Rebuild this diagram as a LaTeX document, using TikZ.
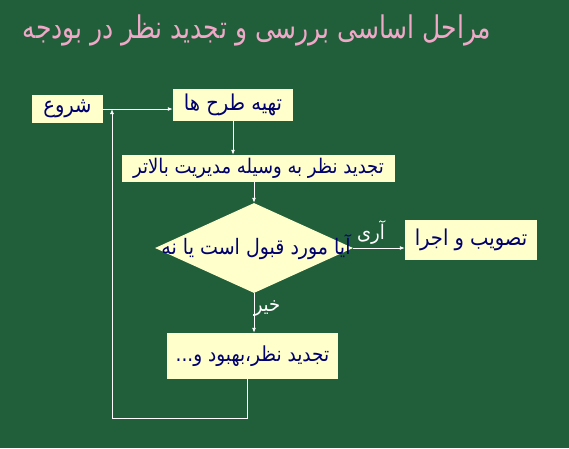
\documentclass[tikz,border=0pt]{standalone}
\usepackage{fontspec}
\setmainfont{DejaVu Sans}
\newfontfamily\arabicfont[Script=Arabic]{DejaVu Sans}
\TeXXeTstate=1
\usetikzlibrary{arrows.meta}
\usetikzlibrary{shapes.geometric}
\usetikzlibrary{calc}
\tikzset{>=latex}
\definecolor{bggreen}{RGB}{33,94,58}
\definecolor{boxfill}{RGB}{255,255,204}
\definecolor{boxtext}{RGB}{0,0,110}
\definecolor{titlepink}{RGB}{240,168,200}
\newcommand{\fsize}[1]{\arabicfont\fontsize{#1}{#1}\selectfont}
\tikzset{stepbox/.style = {draw=none, fill=boxfill, text=boxtext, inner sep=0pt, font=\fsize{19.5}}}
\tikzset{flow/.style = {draw=white, line width=0.9pt, -{Latex[length=5pt,width=4pt]}}}
\tikzset{answer/.style = {text=white, font=\fsize{18}}}
\newcommand{\rtl}[1]{\scalebox{1}[1.12]{\beginR #1\endR}}
\begin{document}
\begin{tikzpicture}[x=1pt,y=-1pt]
                \fill[bggreen] (0,0) rectangle (569,448);
                \useasboundingbox (0,0) rectangle (569,448);

                \node[text=titlepink, font=\fsize{25}] (title) at (257,30) {\scalebox{1}[1.25]{\beginR مراحل اساسی بررسی و تجدید نظر در بودجه\endR}};

                \node[stepbox, minimum width=71pt, minimum height=28pt] (start) at (67.5,109) {\rtl{شروع}};
                \node[stepbox, minimum width=120pt, minimum height=32pt] (plan) at (233,105) {\rtl{تهیه طرح ها}};
                \node[stepbox, font=\fsize{18}, minimum width=273pt, minimum height=27pt] (review) at (258.5,168.5) {\rtl{تجدید نظر به وسیله مدیریت بالاتر}};
                \node[diamond, fill=boxfill, inner sep=0pt, minimum width=198pt, minimum height=90pt] (ask) at (254,248) {};
                \node[text=boxtext, inner sep=0pt, font=\fsize{19}] (asktext) at (256,247) {\rtl{آیا مورد قبول است یا نه}};
                \node[stepbox, minimum width=132pt, minimum height=40pt] (approve) at (471,240) {\rtl{تصویب و اجرا}};
                \node[stepbox, font=\fsize{18.5}, minimum width=171pt, minimum height=46pt] (revise) at (252.5,356) {\rtl{تجدید نظر،بهبود و...}};

                \coordinate (lowright) at (247,418);
                \coordinate (lowleft) at (112,418);

                \draw[flow] (start) -- (start -| plan.west);
                \draw[flow] (plan.south) -- (plan.south |- review.north);
                \draw[flow] (ask.north |- review.south) -- (ask.north);
                \draw[flow] (ask.east) -- (ask.east -| approve.west);
                \draw[flow] (ask.south) -- (ask.south |- revise.north);
                \draw[flow] (revise.south -| lowright) -- (lowright) -- (lowleft) -- (lowleft |- start);

                \node[answer] (yes) at (371,232) {\rtl{آری}};
                \node[answer] (no) at (267,309) {\rtl{خیر}};
            \end{tikzpicture}
\end{document}
